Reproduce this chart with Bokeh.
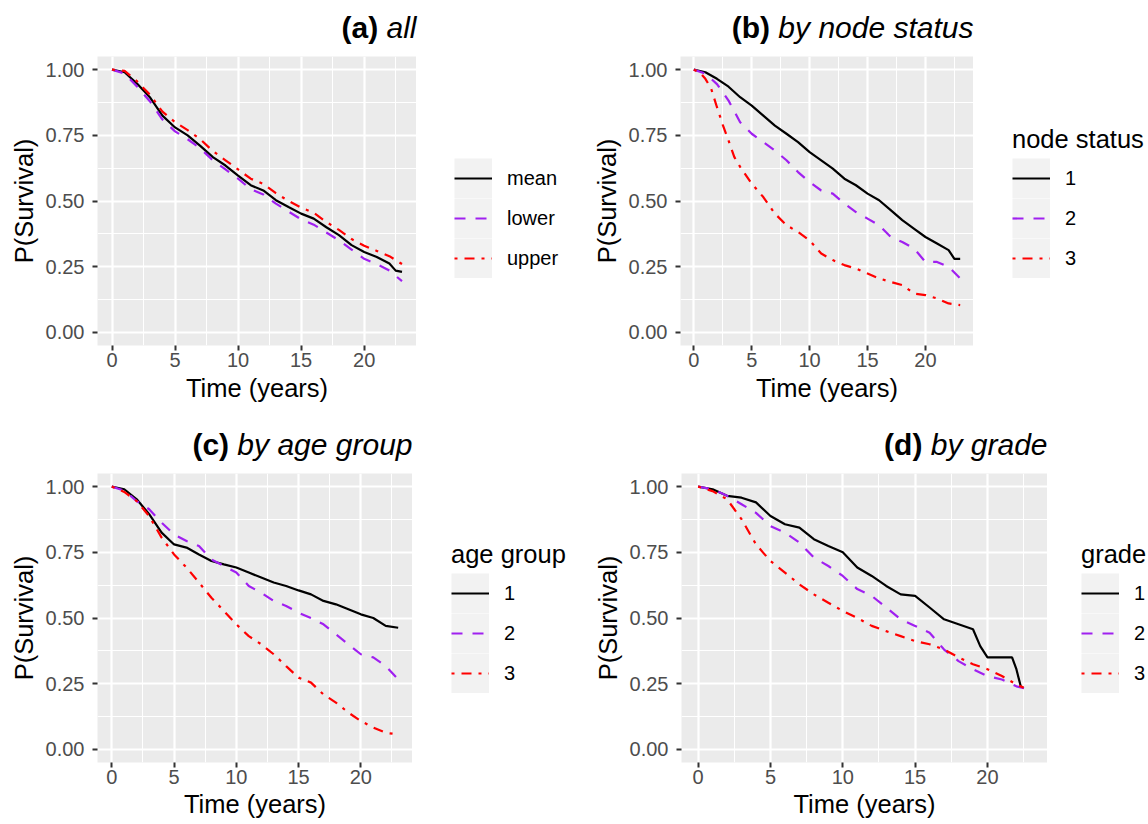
from bokeh.plotting import figure
from bokeh.layouts import column, row
from bokeh.models import Range1d, FixedTicker, NumeralTickFormatter, Legend, LegendItem
from bokeh.core.properties import value
from bokeh.embed import file_html
from bokeh.resources import INLINE

FONT = "Liberation Sans"

# ---------------- data ----------------
X_TICKS = [0, 5, 10, 15, 20]
X_MINOR = [2.5, 7.5, 12.5, 17.5, 22.5]
Y_TICKS = [0.0, 0.25, 0.5, 0.75, 1.0]
Y_MINOR = [0.125, 0.375, 0.625, 0.875]

TITLE_BOLD = ["(a)", "(b)", "(c)", "(d)"]
TITLE_ITALIC = ["all", "by node status", "by age group", "by grade"]
LEGEND_TITLES = [None, "node status", "age group", "grade"]

YEARS_0_23 = list(range(0, 24))

# (a) all
a_mean_t = list(range(0, 23)) + [22.5, 23]
a_mean = [1.0, 0.99, 0.946, 0.895, 0.825, 0.78, 0.75, 0.71, 0.667, 0.635, 0.597, 0.56,
          0.54, 0.503, 0.477, 0.452, 0.433, 0.40, 0.37, 0.332, 0.306, 0.287, 0.262, 0.235, 0.23]
a_lower_t = YEARS_0_23
a_lower = [1.0, 0.985, 0.935, 0.88, 0.81, 0.765, 0.735, 0.70, 0.655, 0.62, 0.585, 0.545,
           0.525, 0.49, 0.46, 0.43, 0.41, 0.38, 0.35, 0.315, 0.28, 0.26, 0.235, 0.195]
a_upper_t = YEARS_0_23
a_upper = [1.0, 0.995, 0.955, 0.905, 0.84, 0.80, 0.77, 0.735, 0.69, 0.655, 0.62, 0.585,
           0.565, 0.53, 0.50, 0.475, 0.455, 0.42, 0.39, 0.355, 0.33, 0.31, 0.29, 0.26]
a_labels = ["mean", "lower", "upper"]

# (b) by node status
b1_t = list(range(0, 23)) + [22.5, 23]
b1 = [1.0, 0.99, 0.965, 0.935, 0.895, 0.863, 0.825, 0.787, 0.756, 0.724, 0.686, 0.655,
      0.623, 0.585, 0.56, 0.528, 0.503, 0.465, 0.427, 0.395, 0.363, 0.338, 0.313, 0.28, 0.28]
b2_t = YEARS_0_23
b2 = [1.0, 0.985, 0.945, 0.882, 0.80, 0.756, 0.724, 0.692, 0.655, 0.61, 0.572, 0.54,
      0.528, 0.49, 0.458, 0.433, 0.408, 0.363, 0.344, 0.32, 0.268, 0.268, 0.25, 0.205]
b3_t = [0, 0.5, 1, 1.5, 2, 2.5, 3, 3.5, 4] + list(range(5, 24))
b3 = [1.0, 0.99, 0.965, 0.927, 0.857, 0.79, 0.73, 0.667, 0.63,
      0.566, 0.515, 0.452, 0.408, 0.382, 0.35, 0.30, 0.275, 0.256, 0.243, 0.224, 0.205,
      0.192, 0.18, 0.148, 0.142, 0.129, 0.11, 0.104]
b_labels = ["1", "2", "3"]

# (c) by age group
c1_t = YEARS_0_23
c1 = [1.0, 0.99, 0.952, 0.895, 0.825, 0.78, 0.768, 0.742, 0.717, 0.704, 0.692, 0.673,
      0.654, 0.635, 0.622, 0.605, 0.59, 0.565, 0.552, 0.533, 0.514, 0.50, 0.47, 0.463]
c2_t = YEARS_0_23
c2 = [1.0, 0.985, 0.945, 0.914, 0.863, 0.818, 0.793, 0.774, 0.723, 0.698, 0.673, 0.622,
      0.596, 0.565, 0.546, 0.52, 0.50, 0.476, 0.438, 0.40, 0.362, 0.35, 0.317, 0.266]
c3_t = YEARS_0_23
c3 = [1.0, 0.98, 0.945, 0.888, 0.806, 0.742, 0.692, 0.635, 0.577, 0.527, 0.476, 0.431,
      0.40, 0.362, 0.317, 0.273, 0.254, 0.209, 0.178, 0.14, 0.108, 0.083, 0.063, 0.057]
c_labels = ["1", "2", "3"]

# (d) by grade
d1_t = list(range(0, 20)) + [19.5, 20, 21, 21.7, 22, 22.3]
d1 = [1.0, 0.99, 0.965, 0.958, 0.94, 0.888, 0.857, 0.844, 0.80, 0.774, 0.75, 0.692,
      0.66, 0.622, 0.59, 0.584, 0.54, 0.495, 0.476, 0.457,
      0.393, 0.35, 0.35, 0.35, 0.305, 0.24]
d2_t = YEARS_0_23
d2 = [1.0, 0.99, 0.965, 0.933, 0.90, 0.85, 0.825, 0.787, 0.73, 0.698, 0.66, 0.61,
      0.584, 0.54, 0.495, 0.47, 0.444, 0.38, 0.336, 0.305, 0.279, 0.266, 0.24, 0.226]
d3_t = list(range(0, 23)) + [22.5]
d3 = [1.0, 0.983, 0.952, 0.876, 0.78, 0.717, 0.673, 0.628, 0.59, 0.558, 0.527, 0.50,
      0.47, 0.45, 0.431, 0.412, 0.40, 0.38, 0.35, 0.324, 0.305, 0.279, 0.247, 0.235]
d_labels = ["1", "2", "3"]

# ---------------- styling / layout ----------------
STYLES = [("#000000", "solid"), ("#A020F0", "11 10"), ("#FF0000", "3 7 10 7")]
X_LIM = (-1.15, 24.15)
Y_LIM = (-0.05, 1.05)
TITLE_PX = 30
LINE_W = 2.2
# Arial / Liberation Sans advance widths (em), used to join bold + italic title parts
CHAR_EM = {"a": .556, "b": .556, "d": .556, "e": .556, "g": .556, "l": .222, "n": .556,
           "o": .556, "p": .556, "r": .333, "s": .5, "t": .278, "u": .556, "y": .5, " ": .278}

PAGE_W = 1148
HALF_W = 574
FRAME_H = 289


def text_width(s, px):
    return sum(CHAR_EM.get(ch, .556) for ch in s) * px


def make_panel(curves, width, height, bl, bt, bb, tick_standoff, label_standoff):
    p = figure(width=width, height=height, x_range=Range1d(*X_LIM), y_range=Range1d(*Y_LIM),
               title=None, output_backend="svg", toolbar_location=None,
               min_border_left=bl, min_border_right=0, min_border_top=bt, min_border_bottom=bb,
               x_axis_label="Time (years)", y_axis_label="P(Survival)")
    p.background_fill_color = "#EBEBEB"
    p.border_fill_color = "white"
    p.outline_line_color = None

    p.xaxis.ticker = FixedTicker(ticks=X_TICKS, minor_ticks=X_MINOR)
    p.yaxis.ticker = FixedTicker(ticks=Y_TICKS, minor_ticks=Y_MINOR)
    p.yaxis.formatter = NumeralTickFormatter(format="0.00")
    for ax in p.axis:
        ax.axis_line_color = None
        ax.major_tick_line_color = "#333333"
        ax.major_tick_line_width = 2
        ax.major_tick_out = 5
        ax.major_tick_in = 0
        ax.minor_tick_line_color = None
        ax.major_label_text_font = FONT
        ax.major_label_text_font_size = "20px"
        ax.major_label_text_color = "#4D4D4D"
        ax.axis_label_text_font = FONT
        ax.axis_label_text_font_size = "25.5px"
        ax.axis_label_text_font_style = "normal"
        ax.axis_label_text_color = "#000000"
    p.xaxis.major_label_standoff = tick_standoff
    p.xaxis.axis_label_standoff = label_standoff
    p.yaxis.major_label_standoff = 8
    p.yaxis.axis_label_standoff = 5

    for g in p.grid:
        g.grid_line_color = "white"
        g.grid_line_width = 2.2
        g.minor_grid_line_color = "white"
        g.minor_grid_line_width = 1.1

    for (t, s), (col, dash) in zip(curves, STYLES):
        p.line(t, s, line_color=col, line_width=LINE_W, line_dash=dash)
    return p


def make_legend(labels, title, width, height, loc):
    # legend-only companion figure; its frame is aligned with the neighbouring panel's frame
    f = figure(width=width, height=height, x_range=Range1d(0, 1), y_range=Range1d(0, 1),
               title=None, output_backend="svg", toolbar_location=None, min_border=0,
               x_axis_location=None, y_axis_location=None)
    f.grid.visible = False
    f.outline_line_color = None
    f.background_fill_color = "white"
    # single-vertex lines: nothing is drawn in the frame, only their legend keys
    key_bg = f.line(x=[0], y=[0], line_color="#F2F2F2", line_width=40)
    items = []
    for lab, (col, dash) in zip(labels, STYLES):
        r = f.line(x=[0], y=[0], line_color=col, line_width=LINE_W, line_dash=dash)
        items.append(LegendItem(label=lab, renderers=[key_bg, r]))
    leg = Legend(items=items, location=loc, padding=0, margin=0, spacing=0,
                 glyph_width=38, glyph_height=40, label_standoff=15, label_height=40,
                 label_text_font=FONT, label_text_font_size="20px", label_text_color="#000000",
                 background_fill_alpha=0, border_line_alpha=0)
    if title:
        leg.title = title
        leg.title_text_font = FONT
        leg.title_text_font_size = "25.5px"
        leg.title_text_font_style = "normal"
        leg.title_text_color = "#000000"
        leg.title_standoff = 4
    f.add_layout(leg, "center")
    return f


def make_title_strip(height, baseline_from_bottom, rights, bolds, italics):
    f = figure(width=PAGE_W, height=height, x_range=Range1d(0, PAGE_W), y_range=Range1d(0, height),
               title=None, output_backend="svg", toolbar_location=None, min_border=0,
               x_axis_location=None, y_axis_location=None)
    f.grid.visible = False
    f.outline_line_color = None
    f.background_fill_color = "white"
    sp = text_width(" ", TITLE_PX)
    bold_x = [r - text_width(it, TITLE_PX) - sp for r, it in zip(rights, italics)]
    ys = [baseline_from_bottom] * len(rights)
    f.text(x=rights, y=ys, text=italics, text_align="right", text_baseline="alphabetic",
           text_font=value(FONT), text_font_size=f"{TITLE_PX}px", text_font_style="italic",
           text_color="#000000")
    f.text(x=bold_x, y=ys, text=bolds, text_align="right", text_baseline="alphabetic",
           text_font=value(FONT), text_font_size=f"{TITLE_PX}px", text_font_style="bold",
           text_color="#000000")
    return f


# panel geometry (pixels): left border, frame width
A_BL, A_FW = 97, 319
B_BL, B_FW = 106, 293
C_BL, C_FW = 97, 315
D_BL, D_FW = 107, 366

ROW1_H = 368
ROW2_H = 358

pa = make_panel([(a_mean_t, a_mean), (a_lower_t, a_lower), (a_upper_t, a_upper)],
                A_BL + A_FW, ROW1_H, A_BL, 6, ROW1_H - 6 - FRAME_H, 2, 4)
pb = make_panel([(b1_t, b1), (b2_t, b2), (b3_t, b3)],
                B_BL + B_FW, ROW1_H, B_BL, 6, ROW1_H - 6 - FRAME_H, 2, 4)
pc = make_panel([(c1_t, c1), (c2_t, c2), (c3_t, c3)],
                C_BL + C_FW, ROW2_H, C_BL, 7, ROW2_H - 7 - FRAME_H, 2, 3)
pd = make_panel([(d1_t, d1), (d2_t, d2), (d3_t, d3)],
                D_BL + D_FW, ROW2_H, D_BL, 7, ROW2_H - 7 - FRAME_H, 2, 3)

la = make_legend(a_labels, LEGEND_TITLES[0], HALF_W - (A_BL + A_FW), ROW1_H, (38, 67))
lb = make_legend(b_labels, LEGEND_TITLES[1], HALF_W - (B_BL + B_FW), ROW1_H, (39, 67))
lc = make_legend(c_labels, LEGEND_TITLES[2], HALF_W - (C_BL + C_FW), ROW2_H, (39, 69))
ld = make_legend(d_labels, LEGEND_TITLES[3], HALF_W - (D_BL + D_FW), ROW2_H, (34, 69))

t1 = make_title_strip(50, 23, [A_BL + A_FW, HALF_W + B_BL + B_FW], TITLE_BOLD[:2], TITLE_ITALIC[:2])
t2 = make_title_strip(48, 22, [C_BL + C_FW, HALF_W + D_BL + D_FW], TITLE_BOLD[2:], TITLE_ITALIC[2:])

layout = column(t1, row(pa, la, pb, lb), t2, row(pc, lc, pd, ld))
open("out.html", "w").write(file_html(layout, INLINE))
